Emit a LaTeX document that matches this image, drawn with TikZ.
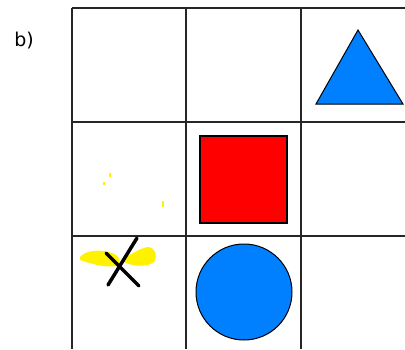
\documentclass[tikz,border=0pt]{standalone}
\usepackage{fontspec}
\setmainfont{DejaVu Sans}
\begin{document}
\begin{tikzpicture}[x=1pt,y=-1pt,
  gridline/.style={line width=1.6pt,black!85},
  blueshape/.style={fill={rgb,255:red,0;green,128;blue,255},draw=black,line width=1pt},
  redshape/.style={fill=red,draw=black,line width=1.2pt},
  yellowblob/.style={fill=yellow,draw=none}]
\useasboundingbox (0,0) rectangle (405,349);
\fill[white] (0,0) rectangle (405,349);
% grid
\coordinate (v1t) at (72,8); \coordinate (v1b) at (72,349);
\coordinate (v2t) at (186,8); \coordinate (v2b) at (186,349);
\coordinate (v3t) at (301,8); \coordinate (v3b) at (301,349);
\coordinate (h1l) at (72,8); \coordinate (h1r) at (405,8);
\coordinate (h2l) at (72,122); \coordinate (h2r) at (405,122);
\coordinate (h3l) at (72,236); \coordinate (h3r) at (405,236);
\draw[gridline] (v1t) -- (v1b);
\draw[gridline] (v2t) -- (v2b);
\draw[gridline] (v3t) -- (v3b);
\draw[gridline] (h1l) -- (h1r);
\draw[gridline] (h2l) -- (h2r);
\draw[gridline] (h3l) -- (h3r);
% label
\node[font=\fontsize{19}{19}\selectfont, inner sep=0pt] (lbl) at (24,41) {b)};
% triangle
\draw[blueshape] (358,30) -- (403,104) -- (316,104) -- cycle;
% red square
\draw[redshape] (200,136) rectangle (287,223);
% blue circle
\draw[blueshape] (244,292) circle (48);
% yellow dots
\fill[yellow] (109,173) rectangle (111,177);
\fill[yellow] (103,182) rectangle (105,185);
\fill[yellow] (162,201) rectangle (164,207);
% yellow blobs
\fill[yellowblob] (80,257) .. controls (86,250) and (100,249) .. (112,253)
  .. controls (120,256) and (122,262) .. (116,266)
  .. controls (105,268) and (92,264) .. (80,260) -- cycle;
\fill[yellowblob] (124,258) .. controls (132,254) and (140,248) .. (148,247)
  .. controls (156,248) and (158,256) .. (154,262)
  .. controls (146,268) and (132,266) .. (124,262) -- cycle;
% X mark
\draw[line width=3.5pt, line cap=round] (137,238) -- (108,285);
\draw[line width=3.5pt, line cap=round] (106,253) -- (139,286);
\end{tikzpicture}
\end{document}
